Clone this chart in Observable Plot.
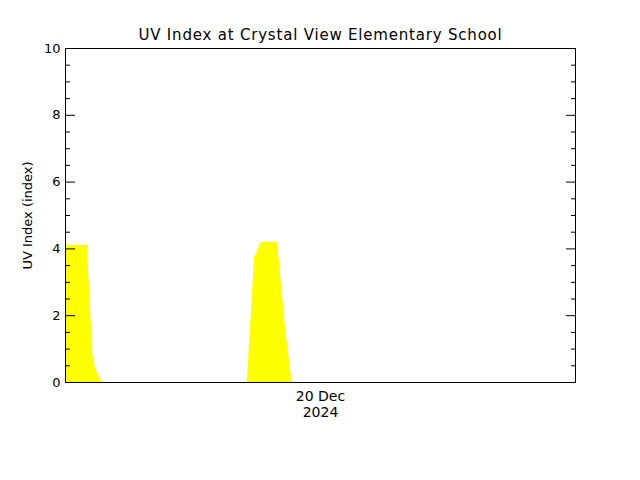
<!DOCTYPE html>
<html>
<head>
<meta charset="utf-8">
<script src="https://cdn.jsdelivr.net/npm/d3@7"></script>
<script src="https://cdn.jsdelivr.net/npm/@observablehq/plot@0.6"></script>
<style>
  html, body { margin: 0; padding: 0; background: #fff; }
  #chart svg { display: block; }
</style>
</head>
<body>
<div id="chart"></div>
<script>
// ---- data ----
const title = "UV Index at Crystal View Elementary School";
const yLabel = "UV Index (index)";
const times = [
  "2024-12-19T10:00Z", "2024-12-19T10:30Z", "2024-12-19T12:45Z", "2024-12-19T13:27Z",
  "2024-12-19T13:48Z", "2024-12-19T14:36Z",
  "2024-12-20T08:55Z", "2024-12-20T09:02Z", "2024-12-20T09:52Z", "2024-12-20T10:45Z",
  "2024-12-20T12:46Z", "2024-12-20T13:47Z", "2024-12-20T14:36Z", "2024-12-22T02:24Z"
];
const uv = [4.15, 4.1, 4.1, 0.8, 0.4, 0, 0, 0.3, 3.75, 4.2, 4.2, 1.6, 0, 0];
const xDomain = ["2024-12-19T10:00Z", "2024-12-22T02:24Z"];
const yMajorTicks = [0, 2, 4, 6, 8, 10];
const yMinorTicks = d3.range(0, 10.01, 0.5).filter(v => v % 2 !== 0);
const xTickLabel = "20 Dec\n2024";

// ---- build ----
const data = times.map((t, i) => ({time: new Date(t), uv: uv[i]}));
const dom = xDomain.map(d => new Date(d));
const xCenter = new Date((+dom[0] + +dom[1]) / 2);
const font = "DejaVu Sans, sans-serif";

const yAxisCommon = {tickFormat: () => "", label: null};

const chart = Plot.plot({
  width: 640,
  height: 480,
  marginLeft: 65,
  marginRight: 65,
  marginTop: 48,
  marginBottom: 98,
  style: {fontFamily: font, fontSize: "13px", color: "black", background: "white"},
  x: {type: "utc", domain: dom},
  y: {domain: [0, 10]},
  marks: [
    Plot.areaY(data, {x: "time", y: "uv", fill: "#ffff00", curve: "linear"}),
    // major ticks (inward) with labels on the left
    Plot.axisY({anchor: "left", ticks: yMajorTicks, tickSize: 10, insetLeft: 10, tickPadding: 5,
      tickFormat: d => String(d), label: null, fontSize: 13}),
    Plot.axisY({anchor: "right", ticks: yMajorTicks, tickSize: 10, insetRight: 10, ...yAxisCommon}),
    // minor ticks
    Plot.axisY({anchor: "left", ticks: yMinorTicks, tickSize: 5, insetLeft: 5, ...yAxisCommon}),
    Plot.axisY({anchor: "right", ticks: yMinorTicks, tickSize: 5, insetRight: 5, ...yAxisCommon}),
    // x label (no tick marks)
    Plot.axisX({ticks: [xCenter], tickSize: 0, tickPadding: 7, tickFormat: () => xTickLabel,
      label: null, fontSize: 14, lineHeight: 1.15}),
    Plot.frame({stroke: "black", strokeWidth: 1}),
    Plot.text([title], {frameAnchor: "top", dy: -13, text: d => d, fontSize: 15, lineAnchor: "middle"}),
    Plot.text([yLabel], {frameAnchor: "left", dx: -38, rotate: -90, text: d => d, fontSize: 13,
      lineAnchor: "middle", textAnchor: "middle"})
  ]
});
// widen the title's letters a little, like the reference's stroke font
d3.select(chart).selectAll("text").filter(function() { return this.textContent === title; })
  .style("letter-spacing", "0.8px");
document.getElementById("chart").appendChild(chart);
</script>
</body>
</html>
